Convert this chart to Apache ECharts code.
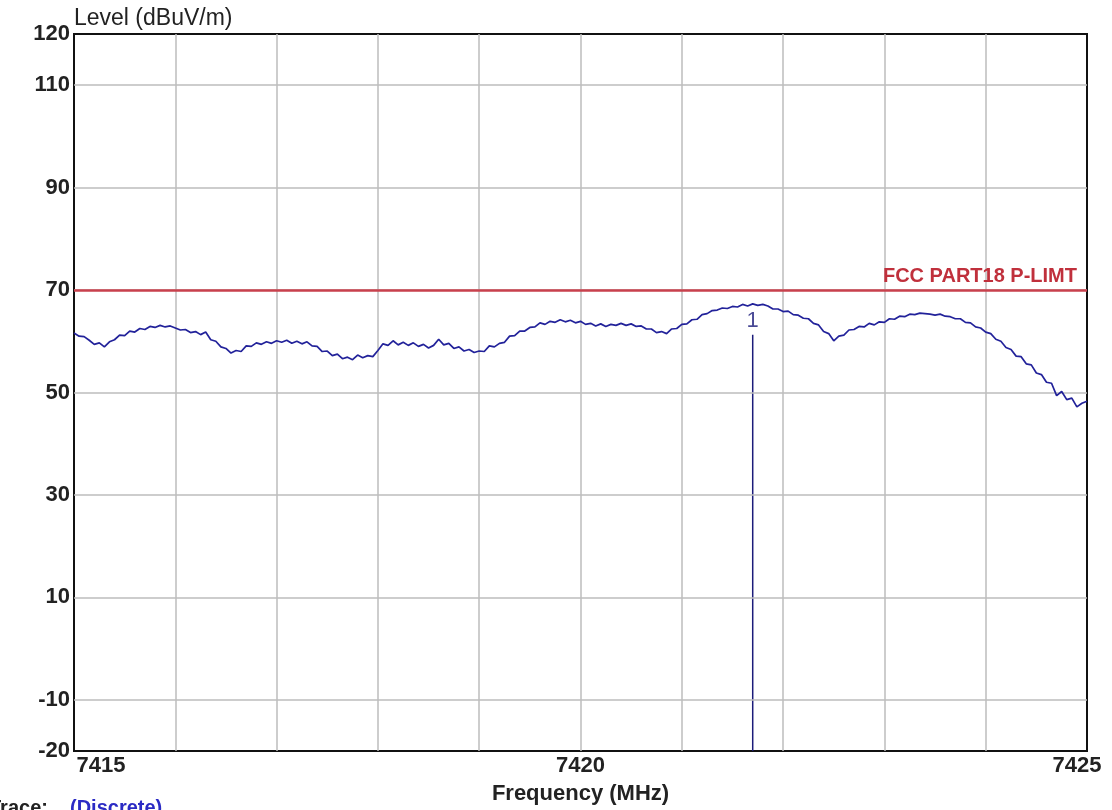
<!DOCTYPE html>
<html>
<head>
<meta charset="utf-8">
<title>Level vs Frequency</title>
<script src="https://cdn.jsdelivr.net/npm/echarts@6/dist/echarts.min.js"></script>
<style>
  html, body { margin: 0; padding: 0; background: #fff; }
  #chart { width: 1112px; height: 810px; }
</style>
</head>
<body>
<div id="chart"></div>
<script>
// sweep: 7415 .. 7425 MHz, 0.05 MHz per point
var freqStart = 7415;
var freqStep = 0.05;
var levels = [
  61.6, 61.0, 60.9, 60.2, 59.4, 59.7, 58.9, 59.9, 60.3, 61.2,
  61.1, 62.0, 61.8, 62.5, 62.3, 62.9, 62.7, 63.1, 62.8, 63.0,
  62.6, 62.2, 62.3, 61.7, 61.9, 61.3, 61.8, 60.3, 60.0, 58.9,
  58.6, 57.7, 58.2, 58.0, 59.1, 59.0, 59.7, 59.4, 59.9, 59.6,
  60.1, 59.8, 60.2, 59.6, 60.0, 59.5, 59.9, 59.1, 59.0, 58.0,
  58.1, 57.2, 57.5, 56.6, 56.9, 56.4, 57.3, 56.8, 57.2, 57.0,
  58.2, 59.5, 59.2, 60.1, 59.3, 59.8, 59.2, 59.7, 59.0, 59.4,
  58.7, 59.2, 60.4, 59.3, 59.6, 58.6, 58.9, 58.1, 58.4, 57.8,
  58.1, 58.0, 59.1, 58.9, 59.6, 59.8, 61.0, 61.1, 62.0, 62.0,
  62.7, 62.8, 63.6, 63.3, 63.9, 63.7, 64.2, 63.8, 64.1, 63.6,
  63.9, 63.3, 63.5, 63.0, 63.4, 62.9, 63.3, 63.1, 63.5, 63.1,
  63.4, 62.9, 63.0, 62.4, 62.4, 61.7, 61.9, 61.5, 62.4, 62.5,
  63.3, 63.4, 64.2, 64.3, 65.2, 65.4, 66.0, 66.1, 66.5, 66.4,
  66.8, 66.7, 67.2, 66.9, 67.3, 67.0, 67.2, 66.9, 66.3, 66.3,
  65.8, 65.9, 65.2, 65.1, 64.5, 64.4, 63.5, 63.2, 61.9, 61.5,
  60.1, 61.0, 61.2, 62.2, 62.3, 62.9, 62.8, 63.5, 63.2, 63.8,
  63.7, 64.4, 64.3, 64.9, 64.8, 65.3, 65.2, 65.5, 65.4, 65.3,
  65.1, 65.3, 64.9, 64.8, 64.4, 64.4, 63.7, 63.6, 62.8, 62.6,
  61.8, 61.5, 60.4, 60.0, 58.8, 58.4, 57.1, 57.0, 55.6, 55.4,
  53.8, 53.5, 52.0, 51.8, 49.4, 50.2, 48.6, 48.9, 47.2, 47.9,
  48.3
];

var limitValue = 70;
var limitName = "FCC PART18 P-LIMT";
var markerFreq = 7421.7;
var markerTop = 61.3;
var markerName = "1";

var yTickLabels = [120, 110, 90, 70, 50, 30, 10, -10, -20];
var yGridLines = [110, 90, 70, 50, 30, 10, -10];
var xTickLabels = [7415, 7420, 7425];

var FONT = "Liberation Sans, Arial, sans-serif";
var TEXT = "#222";

var trace = levels.map(function (v, i) {
  return [+(freqStart + i * freqStep).toFixed(2), v];
});

var chart = echarts.init(document.getElementById("chart"));

var option = {
  backgroundColor: "#fff",
  animation: false,
  grid: {
    left: 74,
    right: 25,
    top: 34,
    bottom: 58,
    show: true,
    borderColor: "#111",
    borderWidth: 2,
    backgroundColor: "#fff"
  },
  xAxis: {
    type: "value",
    min: 7415,
    max: 7425,
    interval: 1,
    name: "Frequency (MHz)",
    nameLocation: "middle",
    nameGap: 43,
    nameTextStyle: {
      fontFamily: FONT,
      fontSize: 22,
      fontWeight: "bold",
      color: TEXT,
      verticalAlign: "middle"
    },
    axisLine: { show: false },
    axisTick: { show: false },
    axisLabel: {
      margin: 4,
      fontFamily: FONT,
      fontSize: 22,
      fontWeight: "bold",
      color: TEXT,
      formatter: function (v) {
        if (xTickLabels.indexOf(v) < 0) return "";
        if (v === 7415) return "{first|" + v + "}";
        if (v === 7425) return "{last|" + v + "}";
        return String(v);
      },
      rich: {
        first: { fontFamily: FONT, fontSize: 22, fontWeight: "bold", color: TEXT, padding: [0, 0, 0, 54] },
        last: { fontFamily: FONT, fontSize: 22, fontWeight: "bold", color: TEXT, padding: [0, 20, 0, 0] }
      }
    },
    splitLine: {
      show: true,
      showMinLine: false,
      showMaxLine: false,
      lineStyle: { color: "#bdbdbd", width: 1.5 }
    }
  },
  yAxis: {
    type: "value",
    min: -20,
    max: 120,
    interval: 10,
    axisLine: { show: false },
    axisTick: { show: false },
    axisLabel: {
      margin: 4,
      fontFamily: FONT,
      fontSize: 22,
      fontWeight: "bold",
      color: TEXT,
      formatter: function (v) {
        return yTickLabels.indexOf(v) >= 0 ? String(v) : "";
      }
    },
    splitLine: { show: false }
  },
  series: [
    {
      name: "grid",
      type: "line",
      data: [],
      z: 1,
      silent: true,
      markLine: {
        silent: true,
        symbol: "none",
        label: { show: false },
        lineStyle: { color: "#bdbdbd", width: 1.5, type: "solid" },
        data: yGridLines.map(function (v) { return { yAxis: v }; })
      }
    },
    {
      name: "limit",
      type: "line",
      data: [],
      z: 2,
      silent: true,
      markLine: {
        silent: true,
        symbol: "none",
        lineStyle: { color: "#c8414d", width: 2.5, type: "solid" },
        label: {
          show: true,
          position: "insideEndTop",
          distance: [10, 4],
          formatter: limitName,
          fontFamily: FONT,
          fontSize: 20,
          fontWeight: "bold",
          color: "#c0303c"
        },
        data: [{ yAxis: limitValue }]
      }
    },
    {
      name: "marker",
      type: "line",
      data: [[markerFreq, -20], [markerFreq, markerTop]],
      symbol: "none",
      z: 3,
      lineStyle: { color: "#1c1c7a", width: 1.5 }
    },
    {
      name: "markerLabel",
      type: "scatter",
      data: [[markerFreq, markerTop]],
      symbolSize: 1,
      itemStyle: { color: "rgba(0,0,0,0)" },
      z: 4,
      label: {
        show: true,
        position: "top",
        distance: 2,
        formatter: markerName,
        fontFamily: FONT,
        fontSize: 22,
        color: "#1c1c7a"
      }
    },
    {
      name: "trace",
      type: "line",
      data: trace,
      symbol: "none",
      z: 5,
      lineStyle: { color: "#22229a", width: 1.7 }
    }
  ],
  graphic: [
    {
      // y axis title
      type: "text",
      left: 74,
      top: 7,
      style: { text: "Level (dBuV/m)", font: "23px " + FONT, fill: TEXT }
    },
    {
      type: "text",
      left: -11,
      top: 798,
      style: { text: "Trace:", font: "bold 20px " + FONT, fill: "#222" }
    },
    {
      type: "text",
      left: 70,
      top: 798,
      style: { text: "(Discrete)", font: "bold 20px " + FONT, fill: "#2b2bc4" }
    }
  ]
};

chart.setOption(option);
</script>
</body>
</html>
